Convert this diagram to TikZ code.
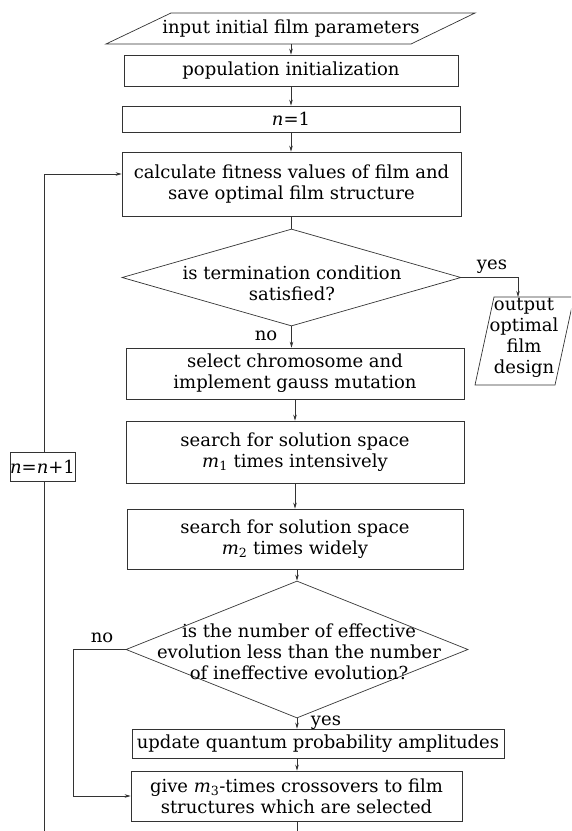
\documentclass[tikz,border=0pt]{standalone}
\usepackage{fontspec}
\setmainfont{DejaVu Serif}
\usetikzlibrary{arrows.meta,calc,shapes.geometric}
\begin{document}
\begin{tikzpicture}[x=1pt,y=-1pt,
  every node/.style={font=\fontsize{18}{21}\selectfont, inner sep=0pt},
  ln/.style={draw=black!80, line width=0.7pt},
  arr/.style={ln, -{Stealth[length=6pt,width=3.5pt]}},
  box/.style={ln, rectangle, align=center},
  dia/.style={ln, diamond, inner sep=0pt},
  txt/.style={align=center}
]
\useasboundingbox (0,0) rectangle (571,831);
\clip (0,0) rectangle (571,831);

% input parallelogram
\node[txt, minimum height=31] (in) at (291,28.5) {input initial film parameters};
\draw[ln] (171,13) -- (475,13) -- (411,44) -- (106,44) -- cycle;

\node[box, minimum width=334, minimum height=31] (pop) at (291,70.5) {population initialization};
\node[box, minimum width=338, minimum height=26] (n1) at (291,119) {\textit{n}=1};
\node[box, minimum width=339, minimum height=64] (calc) at (291.5,184) {calculate fitness values of film and\\save optimal film structure};

\node[dia, minimum width=339, minimum height=97] (d1) at (291.5,277.5) {};
\node[txt] (d1t) at (292,283) {is termination condition\\satisfied?};

\node[txt] (out) at (524,338) {output\\optimal\\film\\design};
\draw[ln] (494,297) -- (574,297) -- (555,385) -- (475,385) -- cycle;
\coordinate (outtop) at (518,297);

\node[box, minimum width=338, minimum height=51] (sel) at (295,373.5) {select chromosome and\\implement gauss mutation};
\node[box, minimum width=338, minimum height=62] (s1) at (295,452) {search for solution space\\\textit{m}\textsubscript{1} times intensively};
\node[box, minimum width=336, minimum height=60] (s2) at (295,539) {search for solution space\\\textit{m}\textsubscript{2} times widely};

\node[dia, minimum width=342, minimum height=137] (d2) at (297,649.5) {};
\node[txt] (d2t) at (299,652) {is the number of effective\\evolution less than the number\\of ineffective evolution?};

\node[box, minimum width=372, minimum height=29] (upd) at (318,743.5) {update quantum probability amplitudes};
\node[box, minimum width=331, minimum height=50] (cross) at (296.5,796) {give \textit{m}\textsubscript{3}-times crossovers to film\\structures which are selected};

\node[box, minimum width=65, minimum height=29] (nn) at (42.5,466.5) {\textit{n}=\textit{n}+1};

% labels
\node[anchor=base] (yes1) at (492,269) {yes};
\node[anchor=base] (no1) at (266,340) {no};
\node[anchor=base] (no2) at (102,642) {no};
\node[anchor=base] (yes2) at (326,725) {yes};

% connectors
\draw[arr] (pop.north |- in.south) -- (pop.north);
\draw[arr] (pop.south) -- (pop.south |- n1.north);
\draw[arr] (n1.south) -- (n1.south |- calc.north);
\draw[ln] (calc.south) -- (d1.north);
\draw[arr] (d1.south) -- (d1.south |- sel.north);
\draw[arr] (d1.east) -| (outtop);
\draw[arr] (sel.south) -- (sel.south |- s1.north);
\draw[arr] (s1.south) -- (s1.south |- s2.north);
\draw[arr] (s2.south -| d2.north) -- (d2.north);
\draw[arr] (d2.south) -- (d2.south |- upd.north);
\draw[arr] (d2.south |- upd.south) -- (d2.south |- cross.north);
\draw[arr] (d2.west) -- ++(-52,0) |- (cross.west);
\coordinate (cb) at (297,831);
\draw[ln] (cross.south -| cb) -- (cb);
\coordinate (lb) at (44,831);
\draw[ln] (lb) -- (lb |- nn.south);
\draw[arr] (lb |- nn.north) |- ($(calc.west)+(0,-10)$);
\end{tikzpicture}
\end{document}
